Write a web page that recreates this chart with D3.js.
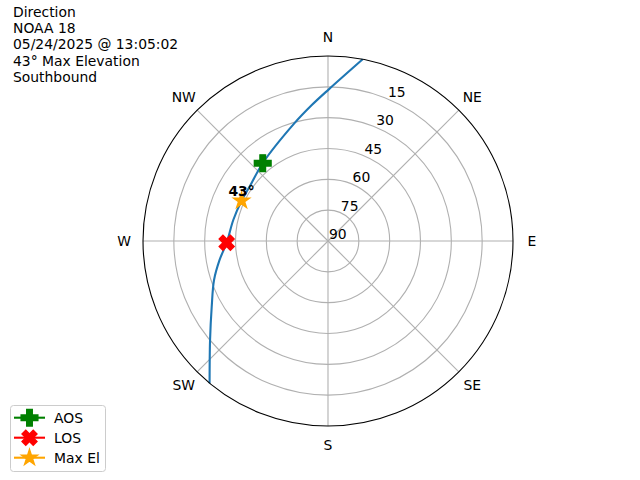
<!DOCTYPE html>
<html>
<head>
<meta charset="utf-8">
<script src="https://cdn.jsdelivr.net/npm/d3@7"></script>
<style>
  html, body { margin: 0; padding: 0; background: #fff; }
  svg { display: block; font-family: "DejaVu Sans", sans-serif; }
</style>
</head>
<body>
<svg id="chart" width="640" height="480"></svg>
<script>
// ---- data ----
const titleLines = ["Direction", "NOAA 18", "05/24/2025 @ 13:05:02", "43\u00b0 Max Elevation", "Southbound"];
const compassLabels = ["N", "NE", "E", "SE", "S", "SW", "W", "NW"];
const compassAngles = [0, 45, 90, 135, 180, 225, 270, 315];
const elevationTicks = [90, 75, 60, 45, 30, 15];
const trackAz = [10.8, 0.4, 353.2, 344.0, 320.0, 304.8, 295.0, 282.5, 269.0, 260.0, 251.1, 240.5, 230.0, 219.8];
const trackEl = [0.0, 16.1, 23.4, 30.5, 40.6, 43.6, 43.6, 42.8, 40.7, 36.4, 31.4, 25.0, 15.1, 0.0];
const eventNames = ["AOS", "LOS", "Max El"];
const eventAz = [320.0, 269.0, 295.0];
const eventEl = [40.6, 40.7, 43.6];
const maxElLabel = "43\u00b0";

// ---- layout ----
const svg = d3.select("#chart");
const cx = 328, cy = 241, R = 185;
const fontSize = 13.9;
const rScale = d3.scaleLinear().domain([90, 0]).range([0, R]);
const rad = d => d * Math.PI / 180;
const px = (az, el) => [cx + rScale(el) * Math.sin(rad(az)), cy - rScale(el) * Math.cos(rad(az))];

const g = svg.append("g");

// grid rings
g.selectAll("circle.ring").data(elevationTicks.filter(t => t > 0 && t < 90)).enter()
  .append("circle").attr("cx", cx).attr("cy", cy).attr("r", d => rScale(d))
  .attr("fill", "none").attr("stroke", "#b0b0b0").attr("stroke-width", 1.1);
// spokes
g.selectAll("line.spoke").data(compassAngles).enter().append("line")
  .attr("x1", cx).attr("y1", cy)
  .attr("x2", d => px(d, 0)[0]).attr("y2", d => px(d, 0)[1])
  .attr("stroke", "#b0b0b0").attr("stroke-width", 1.1);

// radial labels at 22.5 deg
g.selectAll("text.rl").data(elevationTicks).enter().append("text")
  .attr("x", d => px(22.5, d)[0] + 1)
  .attr("y", d => px(22.5, d)[1] - 2)
  .attr("font-size", fontSize).attr("fill", "#000")
  .text(d => d);

// compass labels
g.selectAll("text.cl").data(compassLabels).enter().append("text")
  .attr("x", (d, i) => cx + 204 * Math.sin(rad(compassAngles[i])))
  .attr("y", (d, i) => cy - 204 * Math.cos(rad(compassAngles[i])))
  .attr("text-anchor", "middle").attr("dominant-baseline", "central")
  .attr("font-size", fontSize).attr("fill", "#000")
  .text(d => d);

// track
const track = trackAz.map((a, i) => [rad(a), rScale(trackEl[i])]);
const line = d3.lineRadial().angle(d => d[0]).radius(d => d[1]).curve(d3.curveCatmullRom.alpha(0.5));
g.append("path").attr("transform", `translate(${cx},${cy})`)
  .attr("d", line(track)).attr("fill", "none")
  .attr("stroke", "#1f77b4").attr("stroke-width", 2.1);

// outer spine
g.append("circle").attr("cx", cx).attr("cy", cy).attr("r", R)
  .attr("fill", "none").attr("stroke", "#000").attr("stroke-width", 1.1);

// markers
const msPx = 16.7;
const crossSize = Math.pow(msPx / 3, 2) * 5;
const starSize = Math.pow(msPx / 2, 2) / 0.8908130915292852;
const markerDefs = [
  { color: "green", path: d3.symbol(d3.symbolCross, crossSize)(), rot: 0 },
  { color: "red", path: d3.symbol(d3.symbolCross, crossSize * 0.9)(), rot: 45 },
  { color: "orange", path: d3.symbol(d3.symbolStar, starSize)(), rot: 0 }
];
eventNames.forEach((n, i) => {
  const [x, y] = px(eventAz[i], eventEl[i]);
  const m = markerDefs[i];
  g.append("path").attr("d", m.path)
    .attr("transform", `translate(${x},${y}) rotate(${m.rot})`)
    .attr("fill", m.color).attr("stroke", m.color).attr("stroke-width", 1.4);
});

// max el label
const mp = px(eventAz[2], eventEl[2]);
g.append("text").attr("x", mp[0]).attr("y", mp[1] - 5)
  .attr("text-anchor", "middle").attr("font-weight", "bold")
  .attr("font-size", fontSize).text(maxElLabel);

// title
svg.append("g").selectAll("text").data(titleLines).enter().append("text")
  .attr("x", 13).attr("y", (d, i) => 17 + i * 16.2)
  .attr("font-size", fontSize).attr("fill", "#000").text(d => d);

// legend
const lg = svg.append("g");
lg.append("rect").attr("x", 10.5).attr("y", 405.5).attr("width", 95).attr("height", 66)
  .attr("rx", 3).attr("fill", "#fff").attr("fill-opacity", 0.8)
  .attr("stroke", "#cccccc").attr("stroke-width", 1);
eventNames.forEach((n, i) => {
  const y = 417.7 + i * 20;
  const m = markerDefs[i];
  lg.append("line").attr("x1", 14).attr("x2", 45).attr("y1", y).attr("y2", y)
    .attr("stroke", m.color).attr("stroke-width", 2.1);
  lg.append("path").attr("d", m.path)
    .attr("transform", `translate(29.5,${y}) rotate(${m.rot})`)
    .attr("fill", m.color).attr("stroke", m.color).attr("stroke-width", 1.4);
  lg.append("text").attr("x", 54).attr("y", y).attr("dominant-baseline", "central")
    .attr("font-size", fontSize).text(n);
});
</script>
</body>
</html>
